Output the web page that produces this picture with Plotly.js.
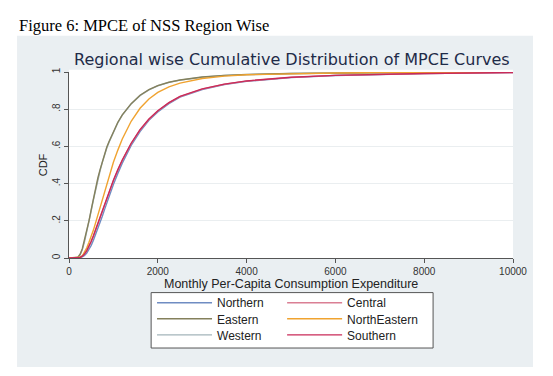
<!DOCTYPE html>
<html>
<head>
<meta charset="utf-8">
<script src="https://cdn.plot.ly/plotly-3.0.1.min.js"></script>
<style>html,body{margin:0;padding:0;background:#fff;}#chart{width:553px;height:376px;}</style>
</head>
<body>
<div id="chart"></div>
<script>
// MPCE grid (Rs.)
const mpce = [0, 100, 200, 250, 300, 350, 400, 450, 500, 550, 600, 650, 700, 750, 800, 850, 900, 1000, 1100, 1200, 1400, 1600, 1800, 2000, 2250, 2500, 3000, 3500, 4000, 5000, 6000, 7000, 8000, 9000, 10000];

const northern =     [0, 0, 0, 0.002, 0.006, 0.014, 0.027, 0.045, 0.068, 0.095, 0.125, 0.157, 0.19, 0.225, 0.26, 0.295, 0.33, 0.395, 0.455, 0.51, 0.605, 0.68, 0.74, 0.785, 0.83, 0.865, 0.905, 0.932, 0.95, 0.97, 0.981, 0.988, 0.992, 0.995, 0.997];
const central =      [0, 0, 0, 0.003, 0.01, 0.021, 0.038, 0.06, 0.087, 0.117, 0.15, 0.183, 0.217, 0.252, 0.287, 0.32, 0.353, 0.415, 0.472, 0.525, 0.615, 0.688, 0.745, 0.79, 0.834, 0.868, 0.908, 0.934, 0.951, 0.971, 0.982, 0.988, 0.992, 0.995, 0.997];
const eastern =      [0, 0, 0.005, 0.02, 0.05, 0.095, 0.145, 0.2, 0.26, 0.32, 0.375, 0.43, 0.475, 0.52, 0.56, 0.595, 0.625, 0.68, 0.73, 0.77, 0.83, 0.875, 0.905, 0.927, 0.945, 0.957, 0.973, 0.982, 0.987, 0.992, 0.995, 0.997, 0.998, 0.999, 1.0];
const northEastern = [0, 0, 0, 0.004, 0.012, 0.03, 0.055, 0.085, 0.115, 0.15, 0.19, 0.23, 0.27, 0.315, 0.36, 0.4, 0.44, 0.515, 0.58, 0.64, 0.735, 0.805, 0.855, 0.89, 0.92, 0.94, 0.965, 0.978, 0.985, 0.992, 0.995, 0.997, 0.998, 0.999, 1.0];
const western =      [0, 0, 0.004, 0.017, 0.045, 0.088, 0.138, 0.193, 0.253, 0.313, 0.368, 0.422, 0.469, 0.514, 0.555, 0.59, 0.621, 0.677, 0.727, 0.768, 0.828, 0.873, 0.904, 0.926, 0.944, 0.956, 0.972, 0.981, 0.986, 0.992, 0.995, 0.997, 0.998, 0.999, 1.0];
const southern =     [0, 0, 0, 0.003, 0.01, 0.022, 0.04, 0.063, 0.09, 0.12, 0.153, 0.186, 0.22, 0.255, 0.29, 0.323, 0.356, 0.418, 0.475, 0.527, 0.617, 0.69, 0.747, 0.792, 0.835, 0.869, 0.909, 0.935, 0.952, 0.972, 0.982, 0.988, 0.992, 0.995, 0.997];

// drawing order (later = on top); each series gets its own legend slot
const series = [
  {name: 'Western', y: western, color: '#a3b4ba', legend: 'legend3'},
  {name: 'Northern', y: northern, color: '#6f8cc2', legend: 'legend'},
  {name: 'Eastern', y: eastern, color: '#84805c', legend: 'legend2'},
  {name: 'Central', y: central, color: '#da7f94', legend: 'legend4'},
  {name: 'NorthEastern', y: northEastern, color: '#f0a330', legend: 'legend5'},
  {name: 'Southern', y: southern, color: '#c92a58', legend: 'legend6'}
];

const xTicks = [0, 2000, 4000, 6000, 8000, 10000];
const yTicks = [0, 0.2, 0.4, 0.6, 0.8, 1];
const yTickText = ['0', '.2', '.4', '.6', '.8', '1'];

const traces = series.map(s => ({x: mpce, y: s.y, name: s.name, type: 'scatter', mode: 'lines',
  line: {color: s.color, width: 1.4}, legend: s.legend}));

const legFont = {family: 'Liberation Sans, Arial, sans-serif', size: 12, color: '#222'};
function leg(xp, yp) {
  return {x: xp, y: yp, xanchor: 'left', yanchor: 'middle', orientation: 'v',
    bgcolor: 'rgba(0,0,0,0)', borderwidth: 0, font: legFont, itemwidth: 55};
}
// legend slot positions (paper units)
const colX = [0.187, 0.48];
const rowY = [-0.2405, -0.327, -0.4135];

const layout = {
  width: 553, height: 376,
  margin: {l: 69, r: 40, t: 72, b: 118},
  paper_bgcolor: '#ffffff',
  plot_bgcolor: '#ffffff',
  showlegend: true,
  font: {family: 'Liberation Sans, Arial, sans-serif', color: '#333'},
  xaxis: {
    range: [0, 10000], tickvals: xTicks, ticktext: xTicks.map(String),
    showgrid: false, zeroline: false, showline: true, linecolor: '#555', linewidth: 1,
    ticks: 'outside', ticklen: 4, tickcolor: '#555',
    tickfont: {size: 10, color: '#333'}
  },
  yaxis: {
    range: [0, 1], tickvals: yTicks, ticktext: yTickText, tickangle: -90,
    showgrid: true, gridcolor: '#eaeef0', gridwidth: 1, zeroline: false,
    showline: true, linecolor: '#555', linewidth: 1,
    ticks: 'outside', ticklen: 4, tickcolor: '#555', ticklabelstandoff: 0,
    tickfont: {size: 10, color: '#333'},
    title: {text: 'CDF', font: {size: 11, color: '#222'}, standoff: 1}
  },
  legend: leg(colX[0], rowY[0]),
  legend2: leg(colX[0], rowY[1]),
  legend3: leg(colX[0], rowY[2]),
  legend4: leg(colX[1], rowY[0]),
  legend5: leg(colX[1], rowY[1]),
  legend6: leg(colX[1], rowY[2]),
  shapes: [
    {type: 'rect', xref: 'paper', yref: 'paper', x0: -0.117, x1: 1.045, y0: -0.586, y1: 1.195,
     fillcolor: '#eaeff2', line: {width: 0}, layer: 'below'},
    {type: 'rect', xref: 'paper', yref: 'paper', x0: 0, x1: 1, y0: 0, y1: 1.012,
     fillcolor: '#ffffff', line: {width: 0}, layer: 'below'},
    {type: 'rect', xref: 'paper', yref: 'paper', x0: 0.185, x1: 0.82, y0: -0.484, y1: -0.186,
     fillcolor: '#ffffff', line: {width: 1, color: '#555'}, layer: 'below'}
  ],
  annotations: [
    {text: 'Figure 6: MPCE of NSS Region Wise', xref: 'paper', yref: 'paper', x: -0.117, y: 1.19,
     xanchor: 'left', yanchor: 'bottom', showarrow: false,
     font: {family: 'Liberation Serif, Times New Roman, serif', size: 16.5, color: '#000'}},
    {text: 'Regional wise Cumulative Distribution of MPCE Curves', xref: 'paper', yref: 'paper', x: 0.502, y: 1.065,
     xanchor: 'center', yanchor: 'middle', showarrow: false,
     font: {family: 'DejaVu Sans, sans-serif', size: 16, color: '#1e2b48'}},
    {text: 'Monthly Per-Capita Consumption Expenditure', xref: 'paper', yref: 'paper', x: 0.5, y: -0.14,
     xanchor: 'center', yanchor: 'middle', showarrow: false,
     font: {family: 'Liberation Sans, Arial, sans-serif', size: 12.5, color: '#222'}}
  ]
};

Plotly.newPlot('chart', traces, layout, {displayModeBar: false, staticPlot: true});
</script>
</body>
</html>
